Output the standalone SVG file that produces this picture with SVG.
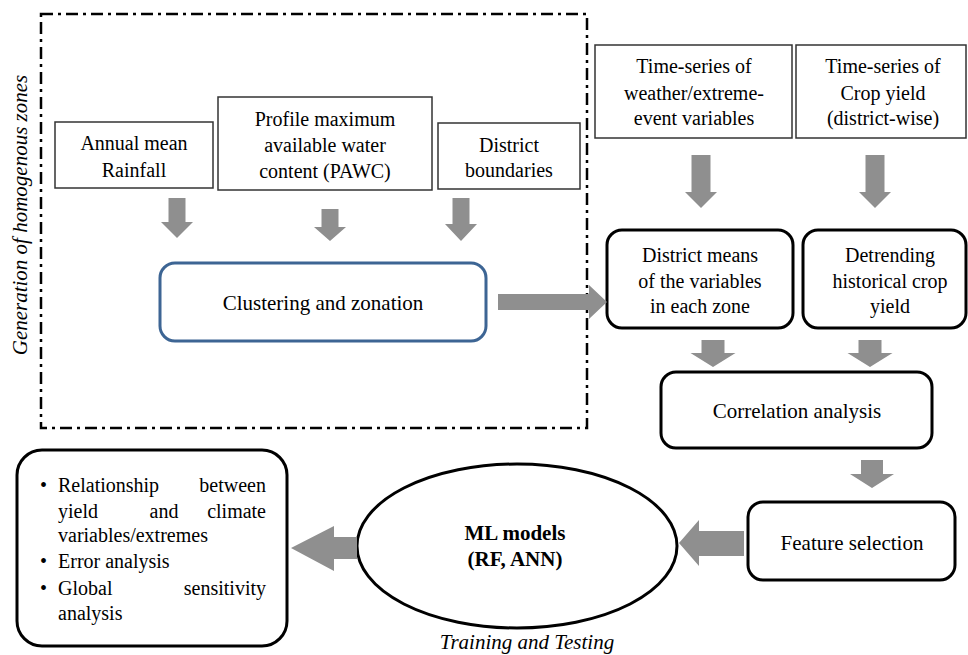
<svg xmlns="http://www.w3.org/2000/svg" width="968" height="655" viewBox="0 0 968 655">
<style>
text{font-family:"Liberation Serif","Times New Roman",serif;font-size:20px;fill:#000;text-anchor:middle}
.box{fill:#fff;stroke:#333;stroke-width:1.5}
.rbox{fill:#fff;stroke:#000;stroke-width:3}
.arr{fill:#8f8f8f;stroke:none}
.it{font-style:italic;font-size:21px}
.l{text-anchor:start}
.r{text-anchor:end}
</style>
<rect width="968" height="655" fill="#fff"/>
<g id="frame">
<rect x="41" y="14" width="546" height="414" fill="none" stroke="#000" stroke-width="2.5" stroke-dasharray="12 5 3 5"/>
<text class="it" transform="translate(27,215) rotate(-90)">Generation of homogenous zones</text>
</g>
<g id="rainfall"><rect class="box" x="55" y="122" width="158" height="66"/>
<text x="134" y="150">Annual mean</text><text x="134" y="177">Rainfall</text></g>
<g id="pawc"><rect class="box" x="218" y="97" width="214" height="93"/>
<text x="325" y="126">Profile maximum</text><text x="325" y="152">available water</text><text x="325" y="178">content (PAWC)</text></g>
<g id="district"><rect class="box" x="438" y="123" width="142" height="66"/>
<text x="509" y="152">District</text><text x="509" y="177">boundaries</text></g>
<g id="clustering"><rect x="160" y="263" width="326" height="78" rx="15" fill="#fff" stroke="#3d6594" stroke-width="3"/>
<text x="323" y="310" style="font-size:21px">Clustering and zonation</text></g>
<g id="weather"><rect class="box" x="595" y="45" width="197" height="93"/>
<text x="694" y="73">Time-series of</text><text x="694" y="100">weather/extreme-</text><text x="694" y="125">event variables</text></g>
<g id="cropts"><rect class="box" x="796" y="45" width="170" height="93"/>
<text x="883" y="73">Time-series of</text><text x="883" y="100">Crop yield</text><text x="883" y="125">(district-wise)</text></g>
<g id="means"><rect class="rbox" x="607" y="230" width="186" height="98" rx="15"/>
<text x="700" y="262">District means</text><text x="700" y="288">of the variables</text><text x="700" y="313">in each zone</text></g>
<g id="detrend"><rect class="rbox" x="803" y="230" width="163" height="98" rx="15"/>
<text x="890" y="262">Detrending</text><text x="890" y="288">historical crop</text><text x="890" y="313">yield</text></g>
<g id="correlation"><rect class="rbox" x="661" y="372" width="271" height="76" rx="15"/>
<text x="797" y="418" style="font-size:21px">Correlation analysis</text></g>
<g id="feature"><rect class="rbox" x="748" y="502" width="207" height="78" rx="15"/>
<text x="852" y="550" style="font-size:21px">Feature selection</text></g>
<g id="ml"><ellipse cx="517" cy="546" rx="160" ry="82" fill="#fff" stroke="#000" stroke-width="3"/>
<text x="515" y="540" style="font-weight:bold;font-size:21px">ML models</text>
<text x="515" y="566" style="font-weight:bold;font-size:21px">(RF, ANN)</text>
<text class="it" x="527" y="649">Training and Testing</text></g>
<g id="outputs"><rect class="rbox" x="17" y="450" width="270" height="196" rx="25"/>
<text class="l" x="40" y="492">•</text><text class="l" x="58" y="492">Relationship</text><text class="r" x="266" y="492">between</text>
<text class="l" x="58" y="518">yield</text><text x="164" y="518">and</text><text class="r" x="266" y="518">climate</text>
<text class="l" x="58" y="542">variables/extremes</text>
<text class="l" x="40" y="568">•</text><text class="l" x="58" y="568">Error analysis</text>
<text class="l" x="40" y="595">•</text><text class="l" x="58" y="595">Global</text><text class="r" x="266" y="595">sensitivity</text>
<text class="l" x="58" y="620">analysis</text></g>
<g id="connectors">
<polygon class="arr" points="168.5,198 185.5,198 185.5,222 193,222 177,238 161,222 168.5,222"/>
<polygon class="arr" points="321.5,209 338.5,209 338.5,227 346,227 330,241 314,227 321.5,227"/>
<polygon class="arr" points="452.5,198 469.5,198 469.5,224 477,224 461,241 445,224 452.5,224"/>
<polygon class="arr" points="498,294 589,294 589,285 607,302 589,319 589,310 498,310"/>
<polygon class="arr" points="691.5,155 710.5,155 710.5,192 717,192 701,208 685,192 691.5,192"/>
<polygon class="arr" points="865.5,155 884.5,155 884.5,192 891,192 875,208 859,192 865.5,192"/>
<polygon class="arr" points="701.5,340 724.5,340 724.5,353 735.5,353 713,367 690.5,353 701.5,353"/>
<polygon class="arr" points="858.5,340 881.5,340 881.5,353 892.5,353 870,367 847.5,353 858.5,353"/>
<polygon class="arr" points="861,460 883,460 883,474 894,474 872,488 850,474 861,474"/>
<polygon class="arr" points="744,531 699,531 699,520 679,543 699,566 699,556 744,556"/>
<polygon class="arr" points="357,537 334,537 334,526 291,548 334,571 334,559 357,559"/>
</g>
</svg>
